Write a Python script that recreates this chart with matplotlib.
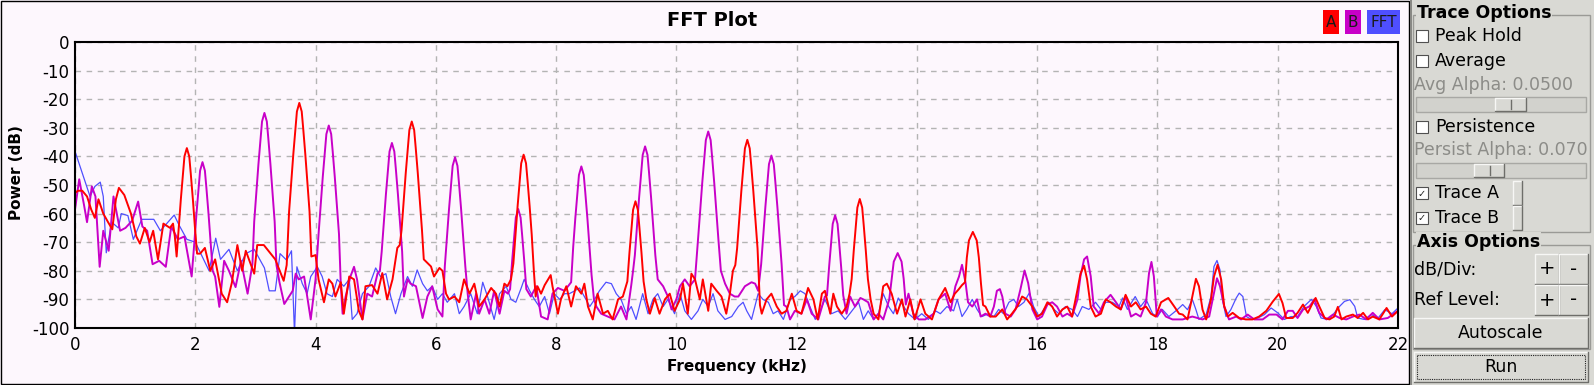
import matplotlib
matplotlib.use('Agg')
import matplotlib.pyplot as plt
from matplotlib.patches import Rectangle

plt.rcParams['font.family'] = ['DejaVu Sans']
plt.rcParams['axes.unicode_minus'] = False

# trace values: (frequency kHz, power dB)
trace_a = [
    (0.00, -52.8), (0.05, -52), (0.12, -52), (0.2, -54), (0.27, -58.6), (0.33, -61.5), (0.39, -55),
    (0.47, -60), (0.55, -63), (0.62, -65.5), (0.68, -55), (0.73, -51), (0.82, -53.5), (0.93, -60),
    (1.02, -68), (1.08, -70.5), (1.16, -65), (1.24, -70), (1.3, -66), (1.38, -76), (1.47, -63.5),
    (1.58, -65), (1.63, -63.5), (1.66, -68), (1.69, -75), (1.725, -65), (1.76, -55), (1.795, -46),
    (1.82, -40), (1.86, -37.1), (1.9, -40), (1.925, -46), (1.96, -55), (1.995, -65), (2.03, -74),
    (2.08, -74), (2.16, -72), (2.25, -80), (2.33, -76), (2.44, -88), (2.53, -91), (2.61, -84),
    (2.7, -71), (2.78, -80), (2.84, -73), (2.98, -81), (3.03, -71), (3.14, -71), (3.33, -76),
    (3.47, -83.5), (3.52, -78), (3.56, -59.3), (3.595, -49.3), (3.63, -39.3), (3.665, -30.3),
    (3.69, -24.3), (3.73, -21.3), (3.77, -24.3), (3.795, -30.3), (3.83, -39.3), (3.865, -49.3),
    (3.9, -59.3), (3.93, -75), (4.0, -74.5), (4.05, -83), (4.14, -91), (4.22, -83), (4.28, -84.5),
    (4.33, -89), (4.42, -84), (4.47, -95), (4.56, -82), (4.64, -83), (4.72, -94), (4.78, -97),
    (4.83, -85.4), (4.94, -85), (5.03, -88), (5.11, -80.8), (5.19, -90), (5.28, -83), (5.36, -72),
    (5.4, -71), (5.43, -65.8), (5.465, -55.8), (5.5, -45.8), (5.535, -36.8), (5.56, -30.8),
    (5.6, -27.8), (5.64, -30.8), (5.665, -36.8), (5.7, -45.8), (5.735, -55.8), (5.77, -65.8),
    (5.8, -76), (5.92, -78.5), (5.97, -82), (6.06, -79), (6.11, -80), (6.17, -88), (6.22, -90),
    (6.31, -89), (6.39, -91), (6.47, -83), (6.56, -88), (6.64, -84.5), (6.72, -92.5), (6.81, -90),
    (6.92, -86), (7.0, -88), (7.06, -92.5), (7.14, -84.5), (7.19, -85.4), (7.25, -83), (7.29, -77.4),
    (7.325, -67.4), (7.36, -57.4), (7.395, -48.4), (7.42, -42.4), (7.46, -39.4), (7.5, -42.4),
    (7.525, -48.4), (7.56, -57.4), (7.595, -67.4), (7.63, -80), (7.66, -89), (7.69, -85.4),
    (7.75, -88), (7.81, -85), (7.91, -81.5), (7.94, -85.4), (8.03, -95), (8.08, -90), (8.17, -85.4),
    (8.25, -92.5), (8.33, -85.4), (8.42, -88), (8.47, -84.5), (8.53, -92.5), (8.61, -97),
    (8.69, -88), (8.78, -95), (8.86, -94), (8.94, -97), (9.03, -90), (9.11, -89), (9.185, -83.7),
    (9.22, -73.7), (9.255, -64.7), (9.28, -58.7), (9.32, -55.7), (9.36, -58.7), (9.385, -64.7),
    (9.42, -73.7), (9.455, -83.7), (9.5, -90), (9.56, -95), (9.64, -89.5), (9.72, -95), (9.81, -90),
    (9.89, -88), (9.97, -94), (10.06, -90), (10.11, -84.5), (10.19, -95), (10.25, -81), (10.31, -83),
    (10.39, -90), (10.44, -83), (10.53, -94), (10.58, -84.5), (10.67, -87), (10.75, -89),
    (10.83, -95), (10.89, -88), (10.94, -80), (10.98, -78), (11.01, -72.2), (11.045, -62.2),
    (11.08, -52.2), (11.115, -43.2), (11.14, -37.2), (11.18, -34.2), (11.22, -37.2), (11.245, -43.2),
    (11.28, -52.2), (11.315, -62.2), (11.35, -72.2), (11.39, -92), (11.42, -95), (11.5, -90),
    (11.58, -88), (11.67, -92.5), (11.75, -95), (11.83, -94), (11.92, -88), (12.0, -94),
    (12.08, -95), (12.19, -86), (12.28, -90), (12.35, -97), (12.42, -88), (12.47, -87), (12.56, -95),
    (12.61, -88), (12.67, -92.5), (12.75, -95), (12.83, -92.5), (12.88, -88), (12.915, -82.9),
    (12.95, -72.9), (12.985, -63.9), (13.01, -57.9), (13.05, -54.9), (13.09, -57.9), (13.115, -63.9),
    (13.15, -72.9), (13.185, -82.9), (13.23, -90), (13.28, -95), (13.36, -97), (13.44, -85.4),
    (13.5, -84.5), (13.58, -88), (13.67, -95), (13.75, -90), (13.81, -96), (13.89, -90),
    (13.96, -97), (14.06, -90), (14.14, -95), (14.25, -97), (14.36, -90), (14.47, -86), (14.56, -91),
    (14.63, -88), (14.69, -86.6), (14.75, -85), (14.8, -84), (14.83, -75.4), (14.865, -69.4),
    (14.93, -66.4), (14.995, -69.4), (15.03, -75.4), (15.065, -84.4), (15.1, -92), (15.14, -92.5),
    (15.22, -96), (15.31, -96), (15.42, -93.5), (15.5, -97), (15.58, -95), (15.67, -92.5),
    (15.75, -89), (15.83, -90), (15.92, -92.5), (16.0, -96), (16.08, -95), (16.17, -91),
    (16.25, -92.5), (16.33, -96), (16.42, -93.5), (16.5, -92.5), (16.58, -96), (16.67, -86.6),
    (16.72, -81), (16.78, -78.2), (16.83, -83), (16.89, -92.5), (16.97, -96), (17.06, -95),
    (17.14, -90), (17.22, -91), (17.31, -92.5), (17.39, -93.5), (17.47, -88.4), (17.56, -92.5),
    (17.64, -91), (17.72, -93.5), (17.81, -92.5), (17.89, -95), (17.97, -96), (18.06, -91),
    (18.18, -89.5), (18.28, -92.5), (18.36, -95), (18.42, -95.3), (18.5, -97), (18.57, -90),
    (18.64, -82.8), (18.69, -85.4), (18.75, -93.6), (18.81, -97), (18.89, -90), (18.94, -82),
    (19.0, -77.9), (19.06, -83.1), (19.11, -92.4), (19.17, -96), (19.25, -94.7), (19.36, -96.5),
    (19.47, -97), (19.58, -97), (19.69, -96), (19.81, -94), (19.92, -90.7), (20.02, -88.1),
    (20.08, -91.3), (20.14, -96.5), (20.25, -96.5), (20.33, -94.7), (20.42, -91.8), (20.5, -94.7),
    (20.58, -91.3), (20.63, -89.5), (20.69, -92.4), (20.78, -96.5), (20.86, -97), (20.94, -96),
    (21.0, -92.6), (21.06, -97), (21.14, -96), (21.25, -95.3), (21.33, -96.5), (21.42, -94.7),
    (21.5, -97), (21.58, -96), (21.69, -97), (21.81, -93), (21.9, -96), (22.0, -94),
]

trace_b = [
    (0.0, -58.6), (0.07, -48), (0.15, -57), (0.2, -63), (0.28, -50.5), (0.34, -54), (0.41, -78.6),
    (0.47, -66), (0.56, -73), (0.64, -54), (0.75, -66), (0.84, -65), (0.95, -62.5), (1.05, -55.8),
    (1.12, -64.5), (1.2, -66), (1.29, -77.7), (1.4, -76.5), (1.51, -78.6), (1.6, -64.5), (1.71, -69),
    (1.82, -68), (1.94, -82), (1.985, -70), (2.02, -60), (2.055, -51), (2.08, -45), (2.12, -42),
    (2.16, -45), (2.185, -51), (2.22, -60), (2.255, -70), (2.29, -80), (2.33, -82), (2.4, -92.6),
    (2.48, -76.5), (2.56, -80), (2.67, -85.7), (2.76, -76.5), (2.87, -88), (2.95, -77.7),
    (2.98, -62.8), (3.015, -52.8), (3.05, -42.8), (3.085, -33.8), (3.11, -27.8), (3.15, -24.8),
    (3.19, -27.8), (3.215, -33.8), (3.25, -42.8), (3.285, -52.8), (3.32, -62.8), (3.35, -78),
    (3.4, -84), (3.48, -91.6), (3.62, -87), (3.67, -81), (3.72, -83), (3.81, -82), (3.92, -97),
    (4.0, -83), (4.05, -67.2), (4.085, -57.2), (4.12, -47.2), (4.155, -38.2), (4.18, -32.2),
    (4.22, -29.2), (4.26, -32.2), (4.285, -38.2), (4.32, -47.2), (4.355, -57.2), (4.39, -67.2),
    (4.42, -85), (4.45, -95), (4.5, -89), (4.58, -82), (4.64, -78.6), (4.69, -83), (4.78, -97),
    (4.86, -88), (4.94, -89), (5.03, -81), (5.07, -80), (5.1, -73.3), (5.135, -63.3), (5.17, -53.3),
    (5.205, -44.3), (5.23, -38.3), (5.27, -35.3), (5.31, -38.3), (5.335, -44.3), (5.37, -53.3),
    (5.405, -63.3), (5.44, -73.3), (5.47, -89), (5.53, -83), (5.58, -84.5), (5.67, -85.4),
    (5.78, -96.5), (5.86, -89), (5.94, -85.4), (6.03, -93.5), (6.11, -96), (6.15, -78.3),
    (6.185, -68.3), (6.22, -58.3), (6.255, -49.3), (6.28, -43.3), (6.32, -40.3), (6.36, -43.3),
    (6.385, -49.3), (6.42, -58.3), (6.455, -68.3), (6.49, -78.3), (6.53, -88), (6.58, -97),
    (6.67, -88), (6.72, -95), (6.81, -90), (6.89, -95), (6.97, -87), (7.06, -95), (7.14, -87),
    (7.2, -88), (7.235, -86.4), (7.27, -76.4), (7.305, -67.4), (7.33, -61.4), (7.37, -58.4),
    (7.41, -61.4), (7.435, -67.4), (7.47, -76.4), (7.505, -86.4), (7.58, -89), (7.67, -85.4),
    (7.75, -96), (7.86, -97), (7.94, -88), (8.03, -86), (8.14, -87), (8.25, -84), (8.285, -71.5),
    (8.32, -61.5), (8.355, -52.5), (8.38, -46.5), (8.42, -43.5), (8.46, -46.5), (8.485, -52.5),
    (8.52, -61.5), (8.555, -71.5), (8.59, -81.5), (8.63, -90), (8.67, -92.5), (8.75, -95),
    (8.86, -96), (8.97, -97), (9.08, -92.5), (9.17, -97), (9.25, -85), (9.28, -80), (9.31, -74.5),
    (9.345, -64.5), (9.38, -54.5), (9.415, -45.5), (9.44, -39.5), (9.48, -36.5), (9.52, -39.5),
    (9.545, -45.5), (9.58, -54.5), (9.615, -64.5), (9.65, -74.5), (9.69, -83), (9.78, -85.4),
    (9.86, -89), (9.92, -93.5), (10.0, -90), (10.06, -85.4), (10.14, -83), (10.22, -85.4),
    (10.31, -83), (10.36, -69.3), (10.395, -59.3), (10.43, -49.3), (10.465, -40.3), (10.49, -34.3),
    (10.53, -31.3), (10.57, -34.3), (10.595, -40.3), (10.63, -49.3), (10.665, -59.3), (10.7, -69.3),
    (10.74, -80), (10.81, -84.5), (10.89, -88), (10.97, -89), (11.03, -89), (11.14, -85.4),
    (11.25, -84), (11.31, -84.5), (11.36, -87), (11.41, -77.7), (11.445, -67.7), (11.48, -57.7),
    (11.515, -48.7), (11.54, -42.7), (11.58, -39.7), (11.62, -42.7), (11.645, -48.7), (11.68, -57.7),
    (11.715, -67.7), (11.75, -77.7), (11.79, -92), (11.83, -92.5), (11.89, -97), (11.97, -94),
    (12.08, -95), (12.17, -90), (12.25, -95), (12.36, -97), (12.47, -89), (12.505, -88.6),
    (12.54, -78.6), (12.575, -69.6), (12.6, -63.6), (12.64, -60.6), (12.68, -63.6), (12.705, -69.6),
    (12.74, -78.6), (12.775, -88.6), (12.83, -95), (12.89, -89), (12.97, -92.5), (13.06, -89.5),
    (13.11, -90), (13.19, -91), (13.28, -97), (13.36, -95), (13.44, -97), (13.54, -90),
    (13.58, -82.8), (13.615, -76.8), (13.68, -73.8), (13.745, -76.8), (13.78, -82.8),
    (13.815, -91.8), (13.86, -88), (13.94, -95), (14.03, -97), (14.14, -97), (14.28, -95),
    (14.36, -90), (14.47, -88), (14.56, -94), (14.64, -85.4), (14.7, -82), (14.75, -77.9),
    (14.81, -84.3), (14.85, -91), (14.92, -92.5), (15.0, -90), (15.06, -96), (15.14, -95),
    (15.22, -96), (15.28, -92.5), (15.33, -87), (15.38, -86.4), (15.42, -89), (15.47, -95),
    (15.56, -96), (15.64, -93.5), (15.72, -86.6), (15.79, -79.9), (15.85, -84.3), (15.92, -93.5),
    (16.0, -97), (16.08, -96), (16.17, -91.8), (16.25, -91), (16.33, -92.5), (16.42, -96),
    (16.5, -95), (16.58, -96), (16.67, -90), (16.72, -81.9), (16.78, -76), (16.83, -75),
    (16.89, -81.9), (16.94, -92.5), (17.03, -95), (17.11, -91), (17.22, -88.4), (17.31, -91),
    (17.39, -93.5), (17.47, -89), (17.56, -96), (17.64, -95), (17.72, -96), (17.81, -91),
    (17.86, -80.8), (17.9, -76.9), (17.94, -81.9), (17.99, -96), (18.06, -93.5), (18.14, -96),
    (18.25, -97), (18.42, -97), (18.58, -96), (18.75, -97), (18.86, -96), (18.94, -87.8),
    (18.99, -82.6), (19.04, -85.4), (19.11, -92.4), (19.19, -97), (19.31, -96), (19.39, -97),
    (19.5, -95.3), (19.61, -97), (19.75, -97), (19.86, -95.3), (19.98, -95.3), (20.08, -97),
    (20.17, -94), (20.25, -94), (20.33, -96.5), (20.42, -93.6), (20.53, -92.4), (20.61, -90),
    (20.69, -94.7), (20.81, -97), (20.92, -95.3), (21.03, -96.5), (21.14, -97), (21.25, -96),
    (21.36, -95.3), (21.47, -97), (21.58, -94.7), (21.69, -97), (21.83, -96.5), (22.0, -94),
]

trace_fft = [
    (0.0, -38.2), (0.14, -47), (0.25, -54), (0.33, -50.5), (0.42, -49), (0.47, -54), (0.52, -73.7),
    (0.61, -63), (0.72, -65), (0.77, -60), (0.88, -60.7), (0.97, -69), (1.11, -62), (1.31, -62),
    (1.42, -66), (1.65, -60.5), (1.73, -64), (1.86, -69), (2.0, -70), (2.23, -80), (2.34, -68.6),
    (2.42, -76), (2.56, -72.5), (2.7, -80), (2.84, -74), (2.98, -72.5), (3.15, -79), (3.23, -87),
    (3.33, -87), (3.41, -74), (3.52, -76.3), (3.6, -73), (3.65, -102), (3.69, -78.6), (3.78, -84.5),
    (3.86, -88), (3.92, -82), (4.03, -78.6), (4.11, -82), (4.19, -88), (4.28, -89), (4.36, -83),
    (4.47, -85.4), (4.56, -83), (4.61, -97), (4.69, -95), (4.78, -88), (4.89, -85.4), (5.0, -79),
    (5.08, -82), (5.17, -81), (5.25, -89), (5.33, -95), (5.42, -88), (5.53, -82), (5.61, -85.4),
    (5.69, -79.7), (5.78, -84.5), (5.86, -87), (5.94, -85.4), (6.03, -90), (6.11, -88), (6.19, -91),
    (6.31, -88), (6.39, -95), (6.47, -92.5), (6.58, -88), (6.69, -95), (6.78, -84), (6.86, -89),
    (6.97, -97), (7.06, -88), (7.17, -85.4), (7.25, -90), (7.33, -91), (7.42, -86), (7.47, -83),
    (7.56, -87), (7.64, -90), (7.72, -92.5), (7.81, -89), (7.89, -95), (7.97, -88), (8.06, -90),
    (8.14, -88), (8.22, -88), (8.31, -87), (8.39, -86), (8.47, -89), (8.56, -92.5), (8.64, -90),
    (8.72, -87), (8.83, -84), (8.92, -84.5), (9.0, -88), (9.08, -90), (9.17, -95), (9.25, -92.5),
    (9.33, -97), (9.44, -88), (9.53, -95), (9.61, -90), (9.69, -88), (9.78, -92.5), (9.86, -90),
    (9.97, -95), (10.06, -88), (10.14, -94), (10.25, -97), (10.36, -94), (10.44, -90), (10.53, -92.5),
    (10.61, -88), (10.69, -94), (10.81, -97), (10.92, -96), (11.03, -92.5), (11.11, -91),
    (11.17, -94), (11.25, -97), (11.36, -88), (11.44, -90), (11.53, -91), (11.61, -95), (11.69, -94),
    (11.78, -97), (11.89, -90), (11.97, -89), (12.06, -87), (12.14, -88), (12.22, -92.5),
    (12.31, -97), (12.39, -94), (12.47, -90), (12.58, -95), (12.69, -94), (12.81, -97), (12.92, -94),
    (13.03, -91), (13.11, -97), (13.19, -94), (13.28, -97), (13.36, -95), (13.44, -88),
    (13.53, -92.5), (13.61, -95), (13.69, -89.5), (13.78, -92.5), (13.86, -95), (13.97, -97),
    (14.08, -95), (14.19, -97), (14.31, -94), (14.39, -95), (14.5, -92.5), (14.61, -94),
    (14.67, -90), (14.75, -96), (14.83, -93.5), (14.92, -90), (15.0, -93.5), (15.08, -96),
    (15.19, -95), (15.28, -96), (15.36, -93.5), (15.44, -95), (15.53, -91), (15.61, -90),
    (15.69, -92.5), (15.78, -91), (15.87, -87.7), (15.94, -92.5), (16.03, -96), (16.11, -93.5),
    (16.19, -91), (16.28, -93.5), (16.36, -95), (16.47, -92.5), (16.58, -93.5), (16.67, -96),
    (16.75, -92.5), (16.86, -93.5), (16.97, -91), (17.06, -93.5), (17.14, -91), (17.25, -91),
    (17.36, -92.5), (17.42, -89.5), (17.5, -93.5), (17.63, -89), (17.72, -92.5), (17.81, -90),
    (17.92, -95), (18.0, -96), (18.08, -93.5), (18.19, -96), (18.33, -93.6), (18.42, -91.8),
    (18.5, -93.6), (18.58, -90), (18.64, -93.6), (18.69, -97), (18.81, -95.3), (18.89, -89),
    (18.94, -78.5), (18.99, -76.4), (19.04, -79.7), (19.08, -90), (19.14, -96), (19.22, -93.6),
    (19.31, -89.5), (19.36, -87.8), (19.42, -89), (19.48, -96), (19.56, -97), (19.67, -96.5),
    (19.78, -95.3), (19.89, -93), (20.0, -94.7), (20.11, -97), (20.22, -96), (20.33, -96),
    (20.44, -92.4), (20.56, -90), (20.64, -92.4), (20.72, -96.5), (20.83, -97), (20.92, -95.3),
    (21.03, -92.4), (21.11, -90.7), (21.2, -90.1), (21.28, -92.4), (21.33, -96.5), (21.44, -97),
    (21.56, -95.3), (21.67, -96.5), (21.78, -93.6), (21.9, -95), (22.0, -93),
]

x_ticks = list(range(0, 23, 2))
y_ticks = list(range(-100, 1, 10))
legend_names = ['A', 'B', 'FFT']

W, H = 1594, 385
BG = '#fdf7fd'
PANEL = '#d9d9d4'
RED, MAG, BLUE = '#ff0000', '#c800c8', '#4f4fff'
FS = 12.5

fig = plt.figure(figsize=(W / 100, H / 100), dpi=100, facecolor=BG)

# overlay axes in pixel coordinates for the widget chrome
ui = fig.add_axes([0, 0, 1, 1], zorder=0)
ui.set_xlim(0, W)
ui.set_ylim(H, 0)
ui.axis('off')


def px(x0, y0, w, h, **kw):
    ui.add_patch(Rectangle((x0, y0), w, h, **kw))


def bevel(x0, y0, w, h):
    px(x0, y0, w, h, facecolor=PANEL, edgecolor='none')
    ui.plot([x0, x0, x0 + w], [y0 + h, y0, y0], color='#f7f7f5', lw=1)
    ui.plot([x0, x0 + w, x0 + w], [y0 + h, y0 + h, y0], color='#6e6e6a', lw=1)


def checkbox(y, label, checked):
    px(1416, y - 6, 12, 12, facecolor='white', edgecolor='#505050', lw=0.8)
    if checked:
        ui.text(1422, y + 0.5, '\u2713', fontsize=7, ha='center', va='center', color='#202020')
    ui.text(1435, y, label, fontsize=FS, va='center', ha='left', color='black')


# plot widget frame
px(0.5, 0.5, 1409, 383, facecolor=BG, edgecolor='black', lw=1)

# side panel
px(1410, 0, W - 1410, H, facecolor=PANEL, edgecolor='none')
ui.plot([1411, 1411], [0, H], color='#7a7a76', lw=1.2)
# group frames
px(1413.5, 15, 177, 217, facecolor='none', edgecolor='#9a9a96', lw=1)
px(1413.5, 245, 177, 104, facecolor='none', edgecolor='#9a9a96', lw=1)
ui.text(1417, 13, 'Trace Options', fontsize=FS, fontweight='bold', va='center', ha='left',
        bbox=dict(facecolor=PANEL, edgecolor='none', pad=0.5))
ui.text(1417, 242, 'Axis Options', fontsize=FS, fontweight='bold', va='center', ha='left',
        bbox=dict(facecolor=PANEL, edgecolor='none', pad=0.5))

checkbox(36, 'Peak Hold', False)
checkbox(61, 'Average', False)
ui.text(1414, 85, 'Avg Alpha: 0.0500', fontsize=FS, va='center', ha='left', color='#8c8c88')
px(1416, 97, 170, 15, facecolor='#d2d2cd', edgecolor='#a8a8a4', lw=1)
bevel(1495, 98, 31, 13)
ui.plot([1511, 1511], [100, 109], color='#6e6e6a', lw=1)
checkbox(127, 'Persistence', False)
ui.text(1414, 150, 'Persist Alpha: 0.070', fontsize=FS, va='center', ha='left', color='#8c8c88')
px(1416, 163, 170, 15, facecolor='#d2d2cd', edgecolor='#a8a8a4', lw=1)
bevel(1474, 164, 30, 13)
ui.plot([1490, 1490], [166, 175], color='#6e6e6a', lw=1)
checkbox(193, 'Trace A', True)
checkbox(218, 'Trace B', True)
bevel(1513, 181, 9, 24)
bevel(1513, 206, 9, 24)

ui.text(1414, 270, 'dB/Div:', fontsize=FS, va='center', ha='left')
ui.text(1414, 300, 'Ref Level:', fontsize=FS, va='center', ha='left')
for yb in (254, 285):
    bevel(1535, yb, 24, 30)
    bevel(1559, yb, 29, 30)
    ui.text(1547, yb + 15, '+', fontsize=14, ha='center', va='center')
    ui.text(1573.5, yb + 15, '-', fontsize=14, ha='center', va='center')
bevel(1414, 318, 174, 30)
ui.text(1501, 333, 'Autoscale', fontsize=FS, ha='center', va='center')
bevel(1414, 352, 174, 30)
px(1417, 355, 168, 24, facecolor='none', edgecolor='#202020', lw=0.8, linestyle=(0, (1, 1)))
ui.text(1501, 367, 'Run', fontsize=FS, ha='center', va='center')

# legend chips
chip_x = [(1323, 16), (1345, 16), (1367, 33)]
for (cx, cw), name, col in zip(chip_x, legend_names, [RED, MAG, BLUE]):
    px(cx, 10, cw, 24, facecolor=col, edgecolor='none')
    ui.text(cx + cw / 2, 22.5, name, fontsize=11, ha='center', va='center', color='#1a1a1a')

ui.text(712, 20, 'FFT Plot', fontsize=14, fontweight='bold', ha='center', va='center')
ui.text(737, 367, 'Frequency (kHz)', fontsize=11, fontweight='bold', ha='center', va='center')
ui.text(17, 173, 'Power (dB)', fontsize=11, fontweight='bold', ha='center', va='center', rotation=90)

# the FFT plot itself
ax = fig.add_axes([75 / W, 1 - 328 / H, (1398 - 75) / W, (328 - 42) / H], zorder=1)
ax.set_facecolor(BG)
for trace, col, lw in [(trace_fft, BLUE, 0.9), (trace_b, MAG, 1.4), (trace_a, RED, 1.4)]:
    f, p = zip(*trace)
    ax.plot(f, p, color=col, lw=lw)
ax.set_xlim(0, 22)
ax.set_ylim(-100, 0)
ax.set_xticks(x_ticks)
ax.set_yticks(y_ticks)
ax.tick_params(length=0, labelsize=12, pad=6)
ax.tick_params(axis='y', pad=4)
ax.grid(True, color='#b4b4b4', lw=1, linestyle=(0, (4, 4)))
for s in ax.spines.values():
    s.set_linewidth(1.5)

fig.savefig('out.png', dpi=100, facecolor=BG)
